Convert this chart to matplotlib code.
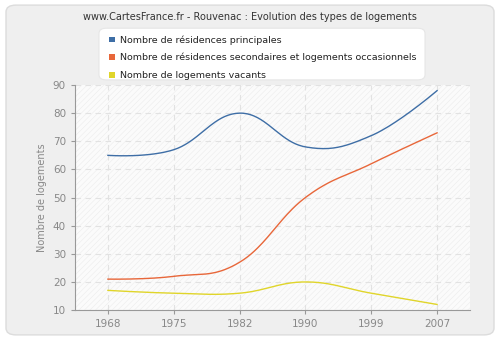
import numpy as np
import matplotlib
matplotlib.use('Agg')
import matplotlib.pyplot as plt
from matplotlib.patches import FancyBboxPatch, Rectangle

# Données
annees = ['1968', '1975', '1982', '1990', '1999', '2007']
principales = [65, 67, 80, 68, 72, 88]
secondaires = [21, 22, 27, 50, 62, 73]
vacants = [17, 16, 16, 20, 16, 12]

noms = ['Nombre de résidences principales',
        'Nombre de résidences secondaires et logements occasionnels',
        'Nombre de logements vacants']
couleurs = ['#3e6ea6', '#e8673a', '#e0d52a']


def lissage(y, n=40, k=1.5):
    # courbe de Bézier façon "spline" (points de contrôle à 1/(1+k) du segment)
    y = np.asarray(y, dtype=float)
    x = np.arange(len(y), dtype=float)
    d = 1 + k
    lx, ly, rx, ry = x.copy(), y.copy(), x.copy(), y.copy()
    for i in range(1, len(y) - 1):
        lx[i] = (k * x[i] + x[i - 1]) / d
        ly[i] = (k * y[i] + y[i - 1]) / d
        rx[i] = (k * x[i] + x[i + 1]) / d
        ry[i] = (k * y[i] + y[i + 1]) / d
        corr = (ry[i] - ly[i]) * (rx[i] - x[i]) / (rx[i] - lx[i]) + y[i] - ry[i]
        ly[i] += corr
        ry[i] += corr
    xs, ys = [], []
    t = np.linspace(0, 1, n)
    for i in range(len(y) - 1):
        b0, b1, b2, b3 = (1 - t)**3, 3 * t * (1 - t)**2, 3 * t**2 * (1 - t), t**3
        xs.append(b0 * x[i] + b1 * rx[i] + b2 * lx[i + 1] + b3 * x[i + 1])
        ys.append(b0 * y[i] + b1 * ry[i] + b2 * ly[i + 1] + b3 * y[i + 1])
    return np.concatenate(xs), np.concatenate(ys)


plt.rcParams['hatch.linewidth'] = 0.4
fig = plt.figure(figsize=(5, 3.4), dpi=100)
fig.patch.set_facecolor('white')

# cadre gris arrondi
fond = FancyBboxPatch((0.012, 0.015), 0.976, 0.97, boxstyle='round,pad=0,rounding_size=0.02',
                      transform=fig.transFigure, facecolor='#efefef', edgecolor='#dcdcdc', lw=1,
                      zorder=-10)
fig.patches.append(fond)

ax = fig.add_axes([0.15, 0.088, 0.79, 0.662])
ax.set_facecolor('#fbfbfb')
ax.add_patch(Rectangle((0, 0), 1, 1, transform=ax.transAxes, facecolor='none',
                       edgecolor='#ececec', hatch='//////', lw=0, zorder=0))

for serie, c in zip([principales, secondaires, vacants], couleurs):
    xs, ys = lissage(serie)
    ax.plot(xs, ys, color=c, lw=1, zorder=3)

ax.set_xlim(-0.5, 5.5)
ax.set_ylim(10, 90)
ax.set_xticks(range(len(annees)))
ax.set_xticklabels(annees)
ax.set_yticks(range(10, 91, 10))
ax.grid(True, color='#e2e2e2', linestyle=(0, (5, 4)), lw=0.8)
ax.set_axisbelow(True)
for s in ['top', 'right']:
    ax.spines[s].set_visible(False)
for s in ['left', 'bottom']:
    ax.spines[s].set_color('#999999')
ax.tick_params(colors='#999999', labelcolor='#888888', labelsize=7.5, length=3, width=0.8)
ax.set_ylabel('Nombre de logements', color='#888888', fontsize=7)

fig.text(0.5, 0.95, 'www.CartesFrance.fr - Rouvenac : Evolution des types de logements',
         ha='center', va='center', fontsize=7.0, color='#333333')

# légende
leg_box = FancyBboxPatch((0.198, 0.765), 0.652, 0.152, boxstyle='round,pad=0,rounding_size=0.015',
                         transform=fig.transFigure, facecolor='white', edgecolor='#e6e6e6', lw=0.8,
                         zorder=5)
fig.patches.append(leg_box)
for i, (nom, c) in enumerate(zip(noms, couleurs)):
    y = 0.885 - i * 0.052
    fig.patches.append(Rectangle((0.218, y - 0.009), 0.011, 0.016, transform=fig.transFigure,
                                 facecolor=c, edgecolor='none', zorder=6))
    fig.text(0.24, y - 0.002, nom, ha='left', va='center', fontsize=6.8, color='#222222', zorder=6)

fig.savefig('out.png', dpi=100)
